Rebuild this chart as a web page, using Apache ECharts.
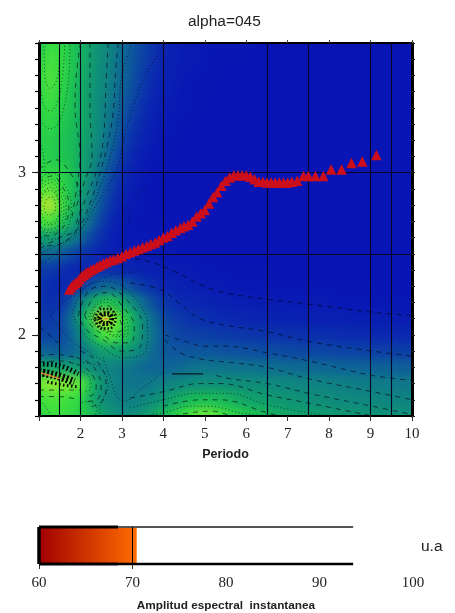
<!DOCTYPE html>
<html>
<head>
<meta charset="utf-8">
<title>alpha=045</title>
<script src="https://cdn.jsdelivr.net/npm/echarts@6/dist/echarts.min.js"></script>
<style>
html, body { margin: 0; padding: 0; background: #fff; }
#heat, #main { position: absolute; left: 0; top: 0; width: 455px; height: 613px; }
/* the map is a coarse grid, a soft blur stands in for the smooth shading of the original */
#heat { filter: blur(5px); clip-path: inset(43px 43px 197px 39px); }
</style>
</head>
<body>
<div id="heat"></div>
<div id="main"></div>
<script>
// columnas y filas del mapa
var periodos = [1,1.25,1.5,1.75,2,2.25,2.5,2.75,3,3.25,3.5,3.75,4,4.25,4.5,4.75,5,5.25,5.5,5.75,6,6.25,6.5,6.75,7,7.25,7.5,7.75,8,8.25,8.5,8.75,9,9.25,9.5,9.75,10];
var filasY = [3.8,3.7,3.6,3.5,3.4,3.3,3.2,3.1,3,2.9,2.8,2.7,2.6,2.5,2.4,2.3,2.2,2.1,2,1.9,1.8,1.7,1.6,1.5];

var amplitud = [
[7.0,8.0,7.8,7.3,6.5,5.7,4.9,4.1,3.3,2.6,2.0,1.4,0.9, 0.6,0.4,0.3,0.2,0.2,0.1,0.1,0.1,0.1,0,0,0,0,0,0,0,0,0,0,0,0,0,0,0],
[7.4,8.2,7.9,7.3,6.5,5.6,4.8,4.0,3.2,2.5,1.9,1.3,0.8, 0.5,0.4,0.3,0.2,0.1,0.1,0.1,0.1,0,0,0,0,0,0,0,0,0,0,0,0,0,0,0,0],
[7.6,8.3,7.9,7.2,6.4,5.5,4.7,3.9,3.1,2.4,1.7,1.1,0.7, 0.5,0.3,0.2,0.1,0.1,0.1,0,0,0,0,0,0,0,0,0,0,0,0,0,0,0,0,0,0],
[7.6,8.2,7.7,7.1,6.3,5.4,4.6,3.8,2.9,2.2,1.5,0.9,0.6, 0.4,0.2,0.1,0.1,0.1,0,0,0,0,0,0,0,0,0,0,0,0,0,0,0,0,0,0,0],
[7.5,8.0,7.5,7.0,6.3,5.4,4.5,3.6,2.7,1.9,1.2,0.7,0.4, 0.3,0.2,0.1,0.1,0,0,0,0,0,0,0,0,0,0,0,0,0,0,0,0,0,0,0,0],
[7.4,7.8,7.3,6.9,6.3,5.4,4.4,3.4,2.4,1.6,1.0,0.5,0.3, 0.2,0.1,0.1,0,0,0,0,0,0,0,0,0,0,0,0,0,0,0,0,0,0,0,0,0],
[7.3,7.5,7.1,6.8,6.2,5.3,4.2,3.0,2.0,1.2,0.7,0.4,0.2, 0.1,0.1,0,0,0,0,0,0,0,0,0,0,0,0,0,0,0,0,0,0,0,0,0,0],
[7.4,7.4,7.1,6.9,6.1,5.0,3.8,2.6,1.6,0.9,0.4,0.2,0.1, 0.1,0,0,0,0,0,0,0,0,0,0,0,0,0,0,0,0,0,0,0,0,0,0,0],
[7.6,7.8,7.6,7.1,6.1,4.8,3.3,2.1,1.2,0.6,0.3,0.1,0.1, 0,0,0,0,0,0,0,0,0,0,0,0,0,0,0,0,0,0,0,0,0,0,0,0],
[8.2,8.5,8.0,7.1,5.9,4.3,2.8,1.7,0.9,0.4,0.2,0.1,0, 0,0,0,0,0,0,0,0,0,0,0,0,0,0,0,0,0,0,0,0,0,0,0,0],
[8.8,9.4,8.3,7.0,5.5,3.8,2.4,1.3,0.6,0.3,0.1,0.1,0, 0,0,0,0,0,0,0,0,0,0,0,0,0,0,0,0,0,0,0,0,0,0,0,0],
[8.0,8.3,7.5,6.2,4.7,3.1,1.8,0.9,0.4,0.2,0.1,0.1,0.1, 0,0,0,0,0,0,0,0,0,0,0,0,0,0,0,0,0,0,0,0,0,0,0,0],
[5.6,5.9,5.3,4.4,3.2,2.0,1.2,0.6,0.3,0.2,0.2,0.1,0.1, 0.1,0.1,0,0,0,0,0,0,0,0,0,0,0,0,0,0,0,0,0,0,0,0,0,0],
[3.0,3.1,2.8,2.2,1.6,1.1,0.7,0.5,0.4,0.4,0.3,0.3,0.2, 0.2,0.1,0.1,0.1,0.1,0.1,0,0,0,0,0,0,0,0,0,0,0,0,0,0,0,0,0,0],
[1.7,1.6,1.3,1.0,0.9,1.0,1.2,1.2,1.0,0.8,0.7,0.6,0.5, 0.4,0.3,0.3,0.2,0.2,0.1,0.1,0.1,0.1,0.1,0.1,0,0,0,0,0,0,0,0,0,0,0,0,0],
[1.4,1.1,0.9,1.1,1.6,2.4,3.0,3.2,2.8,2.2,1.6,1.2,0.9, 0.7,0.6,0.5,0.4,0.3,0.3,0.2,0.2,0.2,0.2,0.1,0.1,0.1,0.1,0.1,0.1,0.1,0.1,0.1,0.1,0,0,0,0],
[1.5,1.2,1.3,2.3,4.2,6.0,7.0,7.2,6.2,4.8,3.3,2.3,1.6, 1.2,1.0,0.9,0.8,0.7,0.6,0.5,0.5,0.4,0.4,0.4,0.3,0.3,0.3,0.3,0.3,0.2,0.2,0.2,0.2,0.2,0.2,0.2,0.1],
[1.7,1.5,1.8,3.2,5.5,7.6,9.6,9.0,8.0,6.4,4.6,3.2,2.2, 1.7,1.5,1.3,1.2,1.1,1.0,0.9,0.9,0.8,0.8,0.7,0.7,0.7,0.6,0.6,0.6,0.6,0.5,0.5,0.5,0.5,0.5,0.4,0.4],
[2.0,1.9,2.0,2.8,4.5,6.4,8.0,8.3,7.6,6.4,4.8,3.5,2.5, 2.1,1.9,1.8,1.8,1.7,1.6,1.5,1.5,1.4,1.4,1.3,1.3,1.3,1.2,1.2,1.2,1.1,1.1,1.1,1.0,1.0,1.0,1.0,1.0],
[3.0,2.9,2.7,2.9,3.5,4.6,5.5,5.8,5.6,5.0,4.1,3.2,2.7, 2.5,2.5,2.5,2.5,2.5,2.4,2.4,2.3,2.3,2.2,2.2,2.1,2.1,2.0,2.0,2.0,1.9,1.9,1.9,1.8,1.8,1.8,1.8,1.7],
[5.8,6.0,5.8,5.6,5.4,4.8,4.4,4.2,3.9,3.5,3.2,3.0,3.0, 3.1,3.3,3.5,3.6,3.6,3.6,3.5,3.5,3.4,3.4,3.3,3.3,3.2,3.2,3.1,3.1,3.0,3.0,3.0,2.9,2.9,2.9,2.8,2.8],
[8.6,8.9,8.9,8.7,8.4,6.8,5.2,4.4,3.8,3.6,3.6,3.8,4.1, 4.4,4.7,4.9,5.0,5.0,5.0,4.9,4.9,4.8,4.7,4.6,4.5,4.4,4.3,4.2,4.1,4.0,4.0,3.9,3.9,3.8,3.8,3.7,3.7],
[8.0,8.2,8.2,8.0,7.7,6.3,5.0,4.5,4.0,4.0,4.3,4.8,5.4, 6.0,6.5,6.8,6.9,6.8,6.6,6.3,6.0,5.8,5.6,5.4,5.2,5.1,5.0,4.9,4.8,4.7,4.6,4.5,4.5,4.4,4.4,4.3,4.3],
[7.5,8.0,8.0,7.8,7.5,7.0,6.0,5.2,4.6,4.8,5.3,6.0,6.8, 7.4,8.0,8.4,8.6,8.4,8.0,7.6,7.2,6.9,6.6,6.3,6.1,5.9,5.8,5.6,5.5,5.4,5.3,5.2,5.1,5.1,5.0,5.0,4.9]
];
var coloresMapa = ['#0814b4','#0a28b0','#0c45a4','#0e6496','#0f7f84','#0f8f78','#12a468','#1cc252','#38de40','#90ec30','#f0d030'];

// triangulos rojos (periodo, y)
var triangulos = [[1.73,2.28],[1.78,2.295],[1.83,2.31],[1.88,2.32],[1.93,2.33],[1.98,2.345],[2.03,2.36],[2.08,2.37],[2.13,2.38],[2.18,2.39],[2.25,2.4],[2.32,2.41],[2.4,2.42],[2.47,2.43],[2.55,2.44],[2.63,2.45],[2.72,2.46],[2.8,2.465],[2.9,2.475],[3,2.485],[3.1,2.5],[3.2,2.51],[3.3,2.52],[3.4,2.53],[3.5,2.54],[3.6,2.55],[3.7,2.56],[3.8,2.57],[3.9,2.585],[4,2.6],[4.1,2.61],[4.2,2.63],[4.3,2.645],[4.41,2.66],[4.5,2.67],[4.6,2.68],[4.7,2.7],[4.8,2.73],[4.9,2.75],[5,2.77],[5.1,2.81],[5.2,2.85],[5.3,2.88],[5.4,2.92],[5.5,2.95],[5.6,2.97],[5.7,2.985],[5.8,2.985],[5.9,2.985],[6,2.985],[6.1,2.975],[6.2,2.96],[6.3,2.945],[6.4,2.945],[6.5,2.94],[6.6,2.94],[6.7,2.94],[6.8,2.94],[6.9,2.94],[7,2.94],[7.1,2.945],[7.23,2.95],[7.38,2.98],[7.5,2.98],[7.67,2.98],[7.86,2.98],[8.05,3.02],[8.3,3.02],[8.54,3.06],[8.8,3.07],[9.14,3.11]];

// lineas de referencia
var verticales = [1.5,2,3,4,6.5,7.5,9,9.5];
var horizontales = [3,2.5];

// isolineas
var contornosPunteados = [
[[4.04,3.79],[3.61,3.62],[3.27,3.41],[3.03,3.19],[2.88,3.02],[2.4,2.81],[2.06,2.67],[1.6,2.56],[1.3,2.48],[1,2.44]],
[[3.25,3.8],[3,3.6],[2.91,3.33],[2.76,3.14],[2.59,2.99],[2.28,2.8],[1.94,2.62],[1.5,2.56],[1,2.5]],
[[1.12,3.8],[1.14,3.6],[1.27,3.52],[1.46,3.6],[1.5,3.8]],
[[1.05,3.5],[1.12,3.41],[1.27,3.38],[1.42,3.42],[1.55,3.55],[1.62,3.8]],
[[1.03,3.32],[1.27,3.27],[1.45,3.3],[1.6,3.4],[1.72,3.6],[1.75,3.8]],
[[1,3.21],[1.1,3.12],[1.13,3]],
[[3.05,2.78],[3.2,2.8],[3.15,2.68],[3.05,2.7]],
[[3.3,2.83],[3.6,2.93]],
[[1,2.96],[1.3,3],[1.6,2.93],[1.78,2.8],[1.72,2.68],[1.5,2.6],[1.25,2.59],[1,2.61]],
[[1,2.92],[1.3,2.96],[1.52,2.9],[1.66,2.79],[1.6,2.69],[1.42,2.64],[1.2,2.63],[1,2.65]],
[[1,2.9],[1.3,2.94],[1.48,2.88],[1.6,2.79],[1.55,2.7],[1.38,2.66],[1.18,2.65],[1,2.67]],
[[1,2.86],[1.3,2.91],[1.45,2.86],[1.54,2.78],[1.48,2.71],[1.32,2.68],[1.15,2.68],[1,2.72]],
[[1.05,2.8],[1.1,2.87],[1.3,2.89],[1.45,2.84],[1.5,2.78],[1.42,2.71],[1.25,2.69],[1.1,2.72],[1.05,2.8]],
[[1.12,2.79],[1.2,2.84],[1.32,2.85],[1.4,2.79],[1.32,2.74],[1.2,2.74],[1.12,2.79]],
[[1.27,2.12],[1.68,2.22],[2.64,2.36],[3.44,2.39]],
[[1.27,2.12],[1.75,1.97],[2.23,1.89],[2.59,1.83]],
[[1.8,2.13],[2.1,2.29],[2.6,2.33],[3.2,2.26],[3.62,2.05],[3.58,1.9],[3,1.86],[2.5,1.93],[2.1,2],[1.8,2.13]],
[[2.2,2.11],[2.4,2.2],[2.65,2.22],[2.95,2.15],[3.15,2.05],[3.1,1.99],[2.85,1.99],[2.55,2.03],[2.3,2.07],[2.2,2.11]],
[[2.25,2.11],[2.42,2.19],[2.65,2.2],[2.9,2.14],[3.08,2.05],[3.02,2],[2.8,2],[2.52,2.04],[2.32,2.07],[2.25,2.11]],
[[2.55,1.86],[2.71,1.74],[2.88,1.62],[3.03,1.59],[3.44,1.66],[4,1.77]],
[[1.99,1.83],[2.47,1.8],[2.67,1.68],[2.47,1.56],[2.47,1.5]],
[[2,1.5],[2,1.57],[2.2,1.59],[2.4,1.55],[2.35,1.5]],
[[1.1,1.58],[1.3,1.5]],
[[3.2,1.55],[4,1.6],[4.82,1.64],[5.54,1.64],[6.5,1.57],[7.5,1.52],[8.03,1.5]],
[[3.5,1.5],[4,1.52],[4.65,1.56],[5.13,1.56],[5.85,1.52],[6.41,1.5]],
[[2,1.78],[2.15,1.76],[2.25,1.71],[2.25,1.67],[2.1,1.65]]
];
var contornosRayados = [
[[2.91,3.8],[2.84,3.59],[2.79,3.37],[2.64,3.16],[2.47,3],[2.23,2.81],[1.92,2.65],[1.5,2.6],[1,2.53]],
[[2.67,3.8],[2.62,3.57],[2.55,3.2],[2.4,3.02],[2.11,2.83],[1.87,2.67]],
[[2.23,3.8],[2.23,3.41],[2.28,3.1],[2.09,2.94],[1.87,2.77]],
[[2,3.8],[1.89,3.57],[1.87,3.41],[1.99,3.1],[1.94,2.96],[1.8,2.73]],
[[1,3.02],[1.4,3.08],[1.75,3],[2,2.85],[1.95,2.68],[1.65,2.58],[1.25,2.55],[1,2.57]],
[[1,2.94],[1.3,2.98],[1.55,2.92],[1.72,2.8],[1.66,2.7],[1.45,2.63],[1.2,2.61],[1,2.63]],
[[3.08,2.48],[3.68,2.45],[4.29,2.39],[4.89,2.31],[5.49,2.26],[6.5,2.22],[7.5,2.19],[9.04,2.14],[10,2.12]],
[[3.2,2.32],[3.92,2.28],[4.41,2.19],[4.89,2.1],[5.49,2.06],[6.5,2.02],[7.5,1.96],[9.04,1.9],[10,1.87]],
[[4.04,2],[4.53,1.96],[5.01,1.93],[5.49,1.93],[6.5,1.89],[7.5,1.84],[9.04,1.75],[10,1.72]],
[[4.04,1.97],[4.41,1.89],[4.94,1.85],[5.61,1.83],[6.5,1.8],[7.5,1.73],[9.04,1.65],[10,1.6]],
[[5.28,1.75],[5.61,1.73],[6.5,1.7],[7.5,1.64],[9.04,1.56],[10,1.51]],
[[3.2,1.61],[4,1.65],[4.57,1.69],[4.84,1.7],[5.37,1.7],[6.5,1.63],[7.5,1.58],[9.04,1.5]],
[[4,1.56],[4.89,1.6],[5.37,1.6],[6.5,1.52],[6.82,1.5]],
[[4.24,1.5],[4.65,1.52],[5.18,1.53],[5.61,1.5]],
[[1.95,2.12],[2.2,2.27],[2.6,2.3],[3.1,2.22],[3.5,2.05],[3.45,1.93],[3,1.9],[2.55,1.97],[2.15,2.03],[1.95,2.12]],
[[2.1,2.12],[2.35,2.24],[2.65,2.26],[3,2.18],[3.3,2.05],[3.25,1.96],[2.9,1.95],[2.55,2],[2.25,2.06],[2.1,2.12]],
[[2.3,2.11],[2.45,2.17],[2.65,2.18],[2.85,2.13],[3,2.05],[2.95,2.02],[2.75,2.02],[2.5,2.05],[2.35,2.08],[2.3,2.11]],
[[1.02,2.05],[1.46,1.95]],
[[1,1.87],[1.4,1.88],[1.9,1.86]],
[[1,1.83],[1.5,1.84],[1.9,1.82]],
[[1,1.66],[1.4,1.66],[2,1.66]],
[[1,1.62],[1.5,1.62],[1.95,1.6]],
[[2,1.9],[2.3,1.86],[2.55,1.78],[2.62,1.68],[2.5,1.58],[2.25,1.56]],
[[1.9,1.86],[2.2,1.83],[2.42,1.76],[2.5,1.68],[2.4,1.6],[2.15,1.59]],
[[1.9,1.82],[2.15,1.79],[2.32,1.74],[2.38,1.68],[2.3,1.63],[2.1,1.62]]
];
var contornoSolido = [[4.21,1.76],[4.96,1.76]];
var estrella = [[2.45,2.1],[2.55,2.13],[2.68,2.13],[2.75,2.1],[2.68,2.07],[2.55,2.07],[2.45,2.1]];
var estrellaAnillo = [[2.35,2.1],[2.5,2.16],[2.7,2.16],[2.85,2.1],[2.7,2.04],[2.5,2.04],[2.35,2.1]];
var estrellaCentro = [[2.56,2.1],[2.66,2.1]];
var franjaNegra = [[1,1.77],[1.4,1.75],[1.85,1.71]];
var franjaSuperior = [[1.1,1.82],[1.5,1.81],[1.95,1.76]];
var franjaInferior = [[1.2,1.71],[1.6,1.69],[1.95,1.68]];
var franjaNaranja = [[1,1.77],[1.5,1.73]];

// barra de color
var barraRango = [60,70.45];
var barraColores = ['#a00000','#ff6c00'];
var barraTicks = [60,70];
var barraMarco = { izq: [[60,0],[60,1]], arribaGrueso: [[60,1],[68.45,1]], abajoGrueso: [[60,0],[68.45,0]], arriba: [[68.45,1],[93.6,1]], abajo: [[68.45,0],[93.6,0]] };

// mapa de fondo, en su propia capa para poder difuminarlo
var celdas = [];
filasY.forEach(function (y, i) {
    periodos.forEach(function (x, j) {
        celdas.push([x, y, amplitud[i][j], i, j]);
    });
});

var heatChart = echarts.init(document.getElementById('heat'));
heatChart.setOption({
    animation: false,
    grid: { left: 39, top: 43, width: 373, height: 373 },
    xAxis: { type: 'value', min: 1, max: 10, show: false },
    yAxis: { type: 'value', min: 1.5, max: 3.8, show: false },
    visualMap: { show: false, type: 'continuous', min: 0, max: 10, dimension: 2, inRange: { color: coloresMapa } },
    series: [{
        type: 'custom',
        data: celdas,
        encode: { x: 0, y: 1 },
        renderItem: function (params, api) {
            var c = api.coord([api.value(0), api.value(1)]);
            var s = api.size([0.25, 0.1]);
            var fila = api.value(3), col = api.value(4);
            var x0 = c[0] - s[0] / 2, x1 = c[0] + s[0] / 2 + 1;
            var y0 = c[1] - s[1] / 2, y1 = c[1] + s[1] / 2 + 1;
            // las celdas del borde se alargan para que el difuminado no aclare el marco
            if (col === 0) x0 -= 20;
            if (col === periodos.length - 1) x1 += 20;
            if (fila === 0) y0 -= 20;
            if (fila === filasY.length - 1) y1 += 20;
            return { type: 'rect', shape: { x: x0, y: y0, width: x1 - x0, height: y1 - y0 }, style: { fill: api.visual('color') } };
        }
    }]
});

function contorno(datos, dash, ancho, color) {
    return {
        type: 'line', data: datos, smooth: 0.4, showSymbol: false, symbol: 'none', silent: true,
        xAxisIndex: 0, yAxisIndex: 0,
        lineStyle: { color: color || 'rgba(0,0,20,0.68)', width: ancho, type: dash }
    };
}
var series = [];
contornosPunteados.forEach(function (c) { series.push(contorno(c, [1, 2.5], 0.9)); });
contornosRayados.forEach(function (c) { series.push(contorno(c, [5, 5], 0.9)); });
series.push(contorno(contornoSolido, 'solid', 1.2, '#0a1a20'));
series.push(contorno(franjaSuperior, [1.5, 2.5], 5, '#000'));
series.push(contorno(franjaInferior, [1.5, 2.5], 3, '#000'));
series.push(contorno(franjaNegra, [2, 2], 8, '#000'));
series.push(contorno(franjaNaranja, 'solid', 1.4, '#e08a30'));
series.push(contorno(estrellaAnillo, [1.5, 2], 2.5, '#000'));
series.push(contorno(estrella, [2, 1.5], 5, '#000'));
series.push(contorno(estrellaCentro, 'solid', 1.5, '#e08a30'));
series.push({
    type: 'line', data: [], silent: true, xAxisIndex: 0, yAxisIndex: 0,
    markLine: {
        silent: true, symbol: 'none', animation: false, label: { show: false }, z: 2,
        lineStyle: { color: '#060622', width: 1.1, type: 'solid' },
        data: verticales.map(function (v) { return { xAxis: v }; }).concat(horizontales.map(function (v) { return { yAxis: v }; }))
    }
});
series.push({
    type: 'scatter', data: triangulos, symbol: 'triangle', symbolSize: 10.5, silent: true, z: 4,
    xAxisIndex: 0, yAxisIndex: 0, itemStyle: { color: '#cc0f1a', opacity: 1 }
});
// barra de color
series.push({
    type: 'custom', xAxisIndex: 2, yAxisIndex: 3, data: [barraRango],
    encode: { x: [0, 1] }, silent: true,
    renderItem: function (params, api) {
        var a = api.coord([api.value(0), 1]), b = api.coord([api.value(1), 0]);
        return {
            type: 'rect', shape: { x: a[0], y: a[1], width: b[0] - a[0], height: b[1] - a[1] },
            style: { fill: new echarts.graphic.LinearGradient(0, 0, 1, 0, [{ offset: 0, color: barraColores[0] }, { offset: 1, color: barraColores[1] }]) }
        };
    }
});
function marco(datos, ancho, color) {
    return { type: 'line', data: datos, symbol: 'none', clip: false, silent: true, xAxisIndex: 2, yAxisIndex: 3, lineStyle: { color: color, width: ancho } };
}
series.push(marco(barraMarco.arriba, 2, '#555'));
series.push(marco(barraMarco.abajo, 2.5, '#000'));
series.push(marco(barraMarco.arribaGrueso, 3, '#000'));
series.push(marco(barraMarco.abajoGrueso, 3, '#000'));
series.push(marco(barraMarco.izq, 3.5, '#000'));
series.push(marco([[70, 0], [70, 1]], 1, '#000'));

var serif = '"Liberation Serif", serif', sans = '"Liberation Sans", Arial, sans-serif';

var myChart = echarts.init(document.getElementById('main'));
myChart.setOption({
    animation: false,
    backgroundColor: 'transparent',
    title: [
        { text: 'alpha=045', left: 183, top: 9, textStyle: { fontFamily: sans, fontSize: 15.5, fontWeight: 'normal', color: '#222' } },
        { text: 'u.a', left: 416, top: 534, textStyle: { fontFamily: sans, fontSize: 15.5, fontWeight: 'normal', color: '#222' } }
    ],
    grid: [
        { left: 39, top: 43, width: 373, height: 373 },
        { left: 39, top: 527, width: 374, height: 37 }
    ],
    xAxis: [
        {
            type: 'value', gridIndex: 0, min: 1, max: 10, interval: 1, position: 'bottom', z: 5,
            name: 'Periodo', nameLocation: 'middle', nameGap: 32,
            nameTextStyle: { fontFamily: sans, fontSize: 12.5, fontWeight: 'bold', color: '#222' },
            axisLine: { lineStyle: { color: '#000', width: 2 } },
            axisTick: { length: 5, lineStyle: { color: '#333', width: 1 } },
            axisLabel: { customValues: [2, 3, 4, 5, 6, 7, 8, 9, 10], margin: 11, fontFamily: serif, fontSize: 15, color: '#222' },
            splitLine: { show: false }
        },
        {
            type: 'value', gridIndex: 0, min: 1, max: 10, interval: 1, position: 'top', z: 5,
            axisLine: { lineStyle: { color: '#000', width: 2 } },
            axisTick: { length: 3, lineStyle: { color: '#444', width: 1 } },
            axisLabel: { show: false }, splitLine: { show: false }
        },
        {
            type: 'value', gridIndex: 1, min: 60, max: 100, interval: 10, position: 'bottom',
            name: 'Amplitud espectral  instantanea', nameLocation: 'middle', nameGap: 36,
            nameTextStyle: { fontFamily: sans, fontSize: 11.8, fontWeight: 'bold', color: '#222' },
            axisLine: { show: false },
            axisTick: { customValues: barraTicks, length: 5, lineStyle: { color: '#333', width: 1 } },
            axisLabel: { margin: 12, fontFamily: serif, fontSize: 15, color: '#222' },
            splitLine: { show: false }
        }
    ],
    yAxis: [
        {
            type: 'value', gridIndex: 0, min: 1.5, max: 3.8, interval: 0.1, position: 'left', z: 5,
            axisLine: { lineStyle: { color: '#000', width: 3 } },
            axisTick: { length: 4, lineStyle: { color: '#000', width: 1.2 } },
            axisLabel: { show: false }, splitLine: { show: false }
        },
        {
            type: 'value', gridIndex: 0, min: 1.5, max: 3.8, interval: 0.1, position: 'left', z: 5,
            axisLine: { show: false },
            axisTick: { customValues: [2, 3], length: 7, lineStyle: { color: '#222', width: 1 } },
            axisLabel: { customValues: [2, 3], margin: 13, fontFamily: serif, fontSize: 16, color: '#222' },
            splitLine: { show: false }
        },
        {
            type: 'value', gridIndex: 0, min: 1.5, max: 3.8, interval: 0.1, position: 'right', z: 5,
            axisLine: { lineStyle: { color: '#000', width: 3 } },
            axisTick: { length: 3, lineStyle: { color: '#222', width: 1 } },
            axisLabel: { show: false }, splitLine: { show: false }
        },
        { type: 'value', gridIndex: 1, min: 0, max: 1, show: false }
    ],
    series: series
});
</script>
</body>
</html>
